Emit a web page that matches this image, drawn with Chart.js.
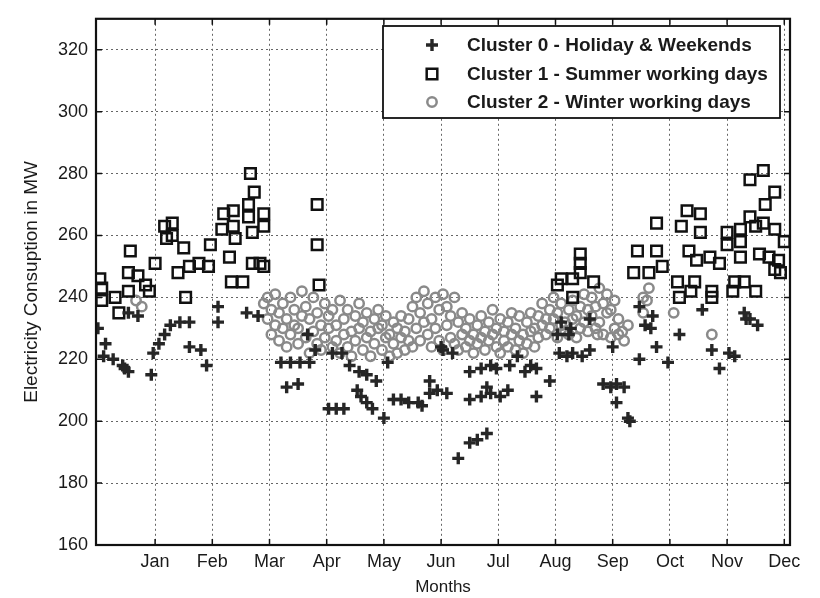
<!DOCTYPE html>
<html>
<head>
<meta charset="utf-8">
<script src="https://cdn.jsdelivr.net/npm/chart.js@4.4.1/dist/chart.umd.min.js"></script>
<style>
  html, body { margin: 0; padding: 0; background: #fff; }
  #wrap { width: 820px; height: 598px; }
</style>
</head>
<body>
<div id="wrap"><canvas id="chart" width="820" height="598"></canvas></div>
<script>
// Daily electricity consumption, clustered (day of year, MW)
const monthLabels = ['Jan', 'Feb', 'Mar', 'Apr', 'May', 'Jun', 'Jul', 'Aug', 'Sep', 'Oct', 'Nov', 'Dec'];
const monthTicks = [31, 61, 91, 121, 151, 181, 211, 241, 271, 301, 331, 361];
const loadTicks = [160, 180, 200, 220, 240, 260, 280, 300, 320];
const seriesNames = ['Cluster 0 - Holiday & Weekends', 'Cluster 1 - Summer working days', 'Cluster 2 - Winter working days'];

// Cluster 0 - holidays & weekends
const holidayPts = [
  [1,230],[5,225],[4,221],[9,220],[14,218],[15,217],[17,216],[22,234],[17,235],[30,222],[29,215],
  [33,225],[36,228],[39,231],[44,232],[49,232],[49,224],[55,223],[58,218],[64,237],[64,232],[79,235],[85,234],
  [97,219],[102,219],[107,219],[112,219],[100,211],[106,212],[111,228],[115,223],[122,204],[126,204],[130,204],
  [124,222],[129,222],[133,218],[138,216],[142,215],[137,210],[139,208],[142,206],[145,204],[147,213],[151,201],
  [153,219],[156,207],[160,207],[164,206],[169,206],[171,205],[175,213],[175,209],[179,210],[181,224],[184,209],
  [182,223],[187,222],[190,188],[196,193],[200,194],[205,196],[196,207],[202,208],[207,209],[212,208],[216,210],
  [196,216],[202,217],[207,218],[210,217],[205,211],[217,218],[221,221],[225,216],[228,218],[231,217],[231,208],
  [238,213],[242,228],[243,222],[247,221],[250,222],[255,221],[259,223],[249,230],[259,233],[244,232],[248,228],
  [266,212],[270,211],[273,212],[277,211],[273,206],[279,201],[280,200],[271,224],[285,220],[294,224],[300,219],
  [291,230],[285,237],[292,234],[288,231],[306,228],[318,236],[323,223],[327,217],[332,222],[335,221],[340,235],
  [341,233],[347,231],[343,233]
];

// Cluster 1 - summer working days
const summerPts = [
  [2,246],[3,243],[3,239],[10,240],[12,235],[17,242],[17,248],[18,255],[22,247],[26,244],[28,242],[31,251],
  [36,263],[37,259],[40,264],[40,260],[43,248],[46,256],[47,240],[49,250],[54,251],[59,250],[60,257],[66,262],
  [67,267],[72,268],[72,263],[73,259],[70,253],[71,245],[77,245],[81,280],[83,274],[80,270],[80,266],[82,261],
  [88,267],[88,263],[82,251],[86,251],[88,250],[116,270],[116,257],[117,244],
  [254,254],[254,251],[254,248],[244,246],[250,246],[261,245],[242,244],[250,240],
  [294,264],[284,255],[282,248],[290,248],[294,255],[297,250],[310,268],[317,267],[307,263],[317,261],[311,255],
  [315,252],[322,253],[305,245],[306,240],[314,245],[312,242],[323,242],[323,240],[327,251],[331,261],[331,257],
  [335,245],[334,242],[338,262],[338,258],[338,253],[340,245],[343,266],[343,278],[350,281],[351,270],[356,274],
  [346,263],[350,264],[356,262],[361,258],[348,254],[353,253],[358,252],[356,249],[359,248],[346,242]
];

// Cluster 2 - winter working days
const winterPts = [
  [21,239],[24,237],[88,238],[90,240],[90,233],[92,236],[92,228],[94,241],[94,231],[96,235],[96,226],[98,238],[98,230],
  [100,233],[100,224],[102,240],[102,228],[104,236],[104,231],[106,230],[106,225],[108,242],[108,234],[110,237],
  [110,227],[112,233],[112,222],[114,240],[114,229],[116,235],[116,225],[118,231],[118,223],[120,238],[120,227],
  [122,234],[122,230],[124,236],[124,224],[126,231],[126,226],[128,239],[128,222],[130,233],[130,228],[132,236],
  [132,224],[134,229],[134,221],[136,234],[136,226],[138,238],[138,230],[140,232],[140,223],[142,235],[142,227],
  [144,229],[144,221],[146,233],[146,225],[148,236],[148,230],[150,231],[150,223],[152,234],[152,227],[154,228],
  [154,221],[156,232],[156,225],[158,230],[158,222],[160,234],[160,227],[162,229],[162,223],[164,233],[164,226],
  [166,237],[166,224],[168,240],[168,230],[170,235],[170,226],[172,242],[172,232],[174,238],[174,228],[176,233],
  [176,224],[178,240],[178,230],[180,236],[180,226],[182,241],[182,223],[184,237],[184,231],[186,234],[186,227],
  [188,240],[188,225],[190,232],[190,223],[192,235],[192,228],[194,230],[194,224],[196,233],[196,226],[198,228],
  [198,222],[200,231],[200,225],[202,234],[202,227],[204,229],[204,223],[206,232],[206,226],[208,236],[208,228],
  [210,230],[210,224],[212,233],[212,222],[214,229],[214,226],[216,232],[216,224],[218,235],[218,228],[220,230],
  [220,223],[222,234],[222,226],[224,228],[224,222],[226,232],[226,225],[228,235],[228,229],[230,230],[230,224],
  [232,234],[232,227],[234,238],[234,231],[236,233],[236,228],[238,236],[238,230],[240,240],[240,233],[242,235],
  [242,227],[244,238],[244,231],[246,232],[246,229],[248,236],[248,228],[250,239],[250,233],[252,234],[252,227],
  [254,237],[254,230],[256,241],[256,232],[258,236],[258,229],[260,240],[260,234],[262,237],[262,230],[264,243],
  [264,232],[266,238],[266,228],[268,241],[268,235],[270,236],[270,227],[272,239],[272,230],[274,233],[274,228],
  [263,228],[276,229],[279,231],[277,226],[287,235],[287,240],[289,239],[290,243],[303,235],[323,228]
];

const toXY = pts => pts.map(p => ({ x: p[0], y: p[1] }));
const FONT = "'Liberation Sans', Arial, sans-serif";

const styles = [
  { pointStyle: 'cross', radius: 6, borderWidth: 3.4, color: '#262626' },
  { pointStyle: 'rect', radius: 7.5, borderWidth: 2.5, color: '#111111' },
  { pointStyle: 'circle', radius: 4.7, borderWidth: 2.5, color: '#8a8a8a' }
];

function makeSet(label, pts, st) {
  return {
    label: label,
    data: toXY(pts),
    showLine: false,
    pointStyle: st.pointStyle,
    pointRadius: st.radius,
    pointBorderWidth: st.borderWidth,
    pointBorderColor: st.color,
    pointBackgroundColor: 'rgba(0,0,0,0)'
  };
}

// frame, inner tick marks and the boxed legend
const framePlugin = {
  id: 'frame',
  afterDraw(chart) {
    const ctx = chart.ctx;
    const a = chart.chartArea;
    const xs = chart.scales.x, ys = chart.scales.y;
    ctx.save();
    ctx.strokeStyle = '#111';
    ctx.lineWidth = 1.5;
    ctx.beginPath();
    monthTicks.forEach(v => {
      const px = xs.getPixelForValue(v);
      ctx.moveTo(px, a.bottom); ctx.lineTo(px, a.bottom - 6);
      ctx.moveTo(px, a.top); ctx.lineTo(px, a.top + 6);
    });
    loadTicks.forEach(v => {
      const py = ys.getPixelForValue(v);
      ctx.moveTo(a.left, py); ctx.lineTo(a.left + 6, py);
      ctx.moveTo(a.right, py); ctx.lineTo(a.right - 6, py);
    });
    ctx.stroke();
    ctx.lineWidth = 2.2;
    ctx.strokeRect(a.left, a.top, a.right - a.left, a.bottom - a.top);

    // legend box
    const bx = 383, by = 26, bw = 397, bh = 92;
    ctx.fillStyle = '#fff';
    ctx.fillRect(bx, by, bw, bh);
    ctx.lineWidth = 1.8;
    ctx.strokeStyle = '#111';
    ctx.strokeRect(bx, by, bw, bh);
    const rows = [45, 74, 102];
    ctx.font = 'bold 19px ' + FONT;
    ctx.textBaseline = 'middle';
    seriesNames.forEach((name, i) => {
      const st = styles[i];
      ctx.strokeStyle = st.color;
      ctx.fillStyle = 'rgba(0,0,0,0)';
      ctx.lineWidth = st.borderWidth;
      Chart.helpers.drawPoint(ctx, { pointStyle: st.pointStyle, radius: st.radius, borderWidth: st.borderWidth, rotation: 0 }, 432, rows[i]);
      ctx.fillStyle = '#1a1a1a';
      ctx.fillText(name, 467, rows[i] + 1);
    });
    ctx.restore();
  }
};

new Chart(document.getElementById('chart'), {
  type: 'scatter',
  data: {
    datasets: [
      makeSet(seriesNames[0], holidayPts, styles[0]),
      makeSet(seriesNames[1], summerPts, styles[1]),
      makeSet(seriesNames[2], winterPts, styles[2])
    ]
  },
  options: {
    responsive: false,
    animation: false,
    devicePixelRatio: 1,
    layout: { padding: { left: 0, right: 30, top: 13, bottom: 0 } },
    plugins: { legend: { display: false }, tooltip: { enabled: false } },
    scales: {
      x: {
        type: 'linear',
        min: 0,
        max: 364,
        afterBuildTicks: s => { s.ticks = monthTicks.map(v => ({ value: v })); },
        afterFit: s => { s.height = 53; },
        grid: { color: '#666', lineWidth: 1, drawTicks: false },
        border: { display: false, dash: [2, 3] },
        ticks: {
          autoSkip: false, maxRotation: 0, padding: 6, color: '#1a1a1a',
          font: { family: FONT, size: 18 },
          callback: v => monthLabels[monthTicks.indexOf(v)]
        },
        title: { display: true, text: 'Months', color: '#1a1a1a', font: { family: FONT, size: 17 }, padding: { top: 0, bottom: 0 } }
      },
      y: {
        min: 160,
        max: 330,
        afterBuildTicks: s => { s.ticks = loadTicks.map(v => ({ value: v })); },
        afterFit: s => { s.width = 96; },
        grid: { color: '#666', lineWidth: 1, drawTicks: false },
        border: { display: false, dash: [2, 3] },
        ticks: {
          padding: 8, color: '#1a1a1a',
          font: { family: FONT, size: 18 },
          callback: v => String(v)
        },
        title: { display: true, text: 'Electricity Consuption in MW', color: '#1a1a1a', font: { family: FONT, size: 19 }, padding: { top: 20, bottom: 0 } }
      }
    }
  },
  plugins: [framePlugin]
});
</script>
</body>
</html>
